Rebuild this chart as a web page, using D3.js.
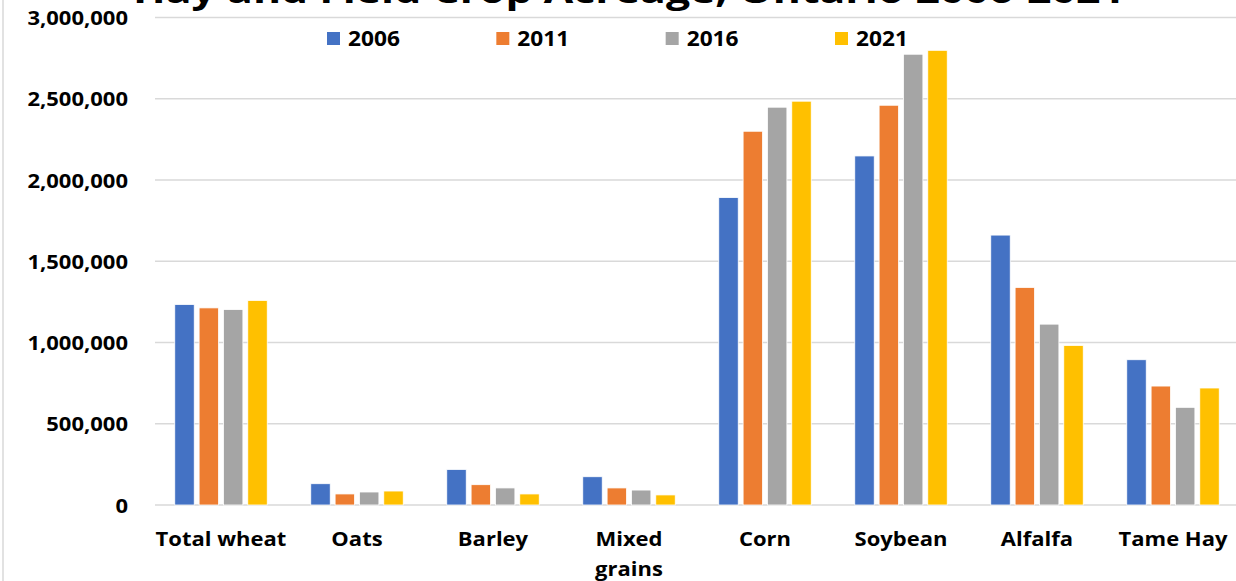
<!DOCTYPE html>
<html>
<head>
<meta charset="utf-8">
<script src="https://cdn.jsdelivr.net/npm/d3@7"></script>
<style>
  html, body { margin: 0; padding: 0; background: #fff; overflow: hidden; }
  text { font-family: "Open Sans", "Noto Sans", sans-serif; font-weight: 700; fill: #000; }
</style>
</head>
<body>
<svg id="chart" width="1236" height="581"></svg>
<script>
// ---- data ----
const title = "Hay and Field Crop Acreage, Ontario 2006-2021";
const categories = ["Total wheat", "Oats", "Barley", "Mixed grains", "Corn", "Soybean", "Alfalfa", "Tame Hay"];
const categoryLabels = ["Total wheat", "Oats", "Barley", "Mixed\ngrains", "Corn", "Soybean", "Alfalfa", "Tame Hay"];
const years = ["2006", "2011", "2016", "2021"];
const values2006 = [1234000, 131000, 219000, 174000, 1892000, 2148000, 1661000, 894000];
const values2011 = [1213000, 68000, 125000, 105000, 2300000, 2460000, 1339000, 732000];
const values2016 = [1203000, 80000, 105000, 92000, 2448000, 2774000, 1113000, 601000];
const values2021 = [1259000, 86000, 68000, 62000, 2485000, 2798000, 982000, 720000];
const yTicks = [0, 500000, 1000000, 1500000, 2000000, 2500000, 3000000];
const colors = ["#4472C4", "#ED7D31", "#A5A5A5", "#FFC000"];

const seriesValues = [values2006, values2011, values2016, values2021];
const rows = categories.map((c, i) => ({ cat: c, vals: years.map((y, j) => ({ year: y, value: seriesValues[j][i] })) }));

const W = 1236, H = 581;
const svg = d3.select("#chart");

// stretch text horizontally (reference uses a wide rendering)
function stretch(sel, k) {
  sel.each(function () {
    const len = this.getComputedTextLength();
    d3.select(this).attr("textLength", len * k).attr("lengthAdjust", "spacingAndGlyphs");
  });
}

// ---- scales ----
const x0 = d3.scaleBand().domain(categories).range([153, 1241]).paddingInner(0.32).paddingOuter(0.16);
const x1 = d3.scaleBand().domain(years).range([0, x0.bandwidth()]).paddingInner(0.2);
const y = d3.scaleLinear().domain([0, 3000000]).range([505, 17.5]);
const color = d3.scaleOrdinal().domain(years).range(colors);

// left border line
svg.append("line").attr("x1", 3).attr("x2", 3).attr("y1", 0).attr("y2", H)
  .attr("stroke", "#d9d9d9").attr("stroke-width", 1.5);

// ---- gridlines ----
const grid = svg.append("g").attr("class", "grid");
grid.selectAll("line").data(yTicks).join("line")
  .attr("x1", 155).attr("x2", W)
  .attr("y1", d => y(d)).attr("y2", d => y(d))
  .attr("stroke", "#d9d9d9").attr("stroke-width", 1.5);

// ---- y axis labels ----
const fmt = d3.format(",");
const yAxis = d3.axisLeft(y).tickValues(yTicks).tickFormat(fmt).tickSize(0).tickPadding(0);
const ya = svg.append("g").attr("transform", "translate(128,0)").call(yAxis);
ya.select(".domain").remove();
ya.selectAll("text")
  .style("font-family", "'Open Sans', sans-serif").style("font-weight", 700)
  .attr("font-size", 20).attr("fill", "#000").attr("x", 0).attr("dy", "0.36em");
stretch(ya.selectAll("text"), 1.1);

// ---- bars ----
const groups = svg.append("g").selectAll("g").data(rows).join("g")
  .attr("transform", d => `translate(${x0(d.cat)},0)`);
groups.selectAll("rect").data(d => d.vals).join("rect")
  .attr("x", d => x1(d.year))
  .attr("width", x1.bandwidth())
  .attr("y", d => y(d.value))
  .attr("height", d => y(0) - y(d.value))
  .attr("fill", d => color(d.year))
  .attr("stroke", "#fff").attr("stroke-width", 0.8);

// ---- category labels ----
const xl = svg.append("g").selectAll("text").data(categories).join("text")
  .attr("x", d => x0(d) + x0.bandwidth() / 2)
  .attr("y", 546)
  .attr("text-anchor", "middle")
  .attr("font-size", 20);
xl.each(function (d, i) {
  const lines = categoryLabels[i].split("\n");
  d3.select(this).selectAll("tspan").data(lines).join("tspan")
    .attr("x", x0(d) + x0.bandwidth() / 2)
    .attr("dy", (l, k) => k === 0 ? 0 : 30)
    .text(l => l);
});
svg.selectAll("tspan").each(function () {
  const len = this.getComputedTextLength();
  d3.select(this).attr("textLength", len * 1.1).attr("lengthAdjust", "spacingAndGlyphs");
});

// ---- legend ----
const legendX = d3.scalePoint().domain(years).range([327, 835]);
const lg = svg.append("g").selectAll("g").data(years).join("g")
  .attr("transform", d => `translate(${legendX(d)},32)`);
lg.append("rect").attr("width", 13).attr("height", 13).attr("fill", d => color(d));
lg.append("text").attr("x", 21).attr("y", 14).attr("font-size", 21).text(d => d);
stretch(lg.selectAll("text"), 1.08);

// ---- title (cropped at top in the reference) ----
svg.append("text").attr("x", 629).attr("y", 3).attr("text-anchor", "middle")
  .attr("font-size", 34).attr("textLength", 992).attr("lengthAdjust", "spacingAndGlyphs")
  .text(title);
</script>
</body>
</html>
